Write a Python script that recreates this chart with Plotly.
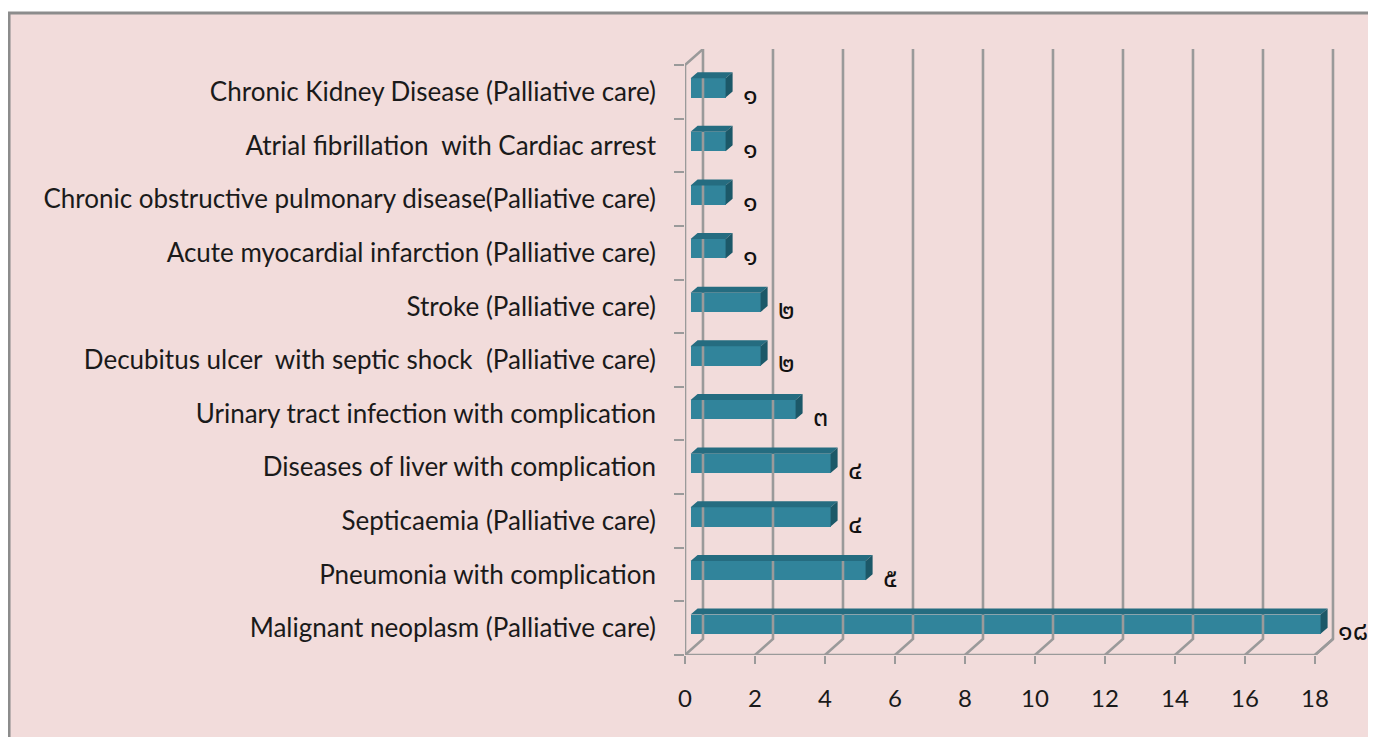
import plotly.graph_objects as go

# ---- data (bottom to top) ----
categories = [
    "Malignant neoplasm (Palliative care)",
    "Pneumonia with complication",
    "Septicaemia (Palliative care)",
    "Diseases of liver with complication",
    "Urinary tract infection with complication",
    "Decubitus ulcer\u00a0 with septic shock\u00a0 (Palliative care)",
    "Stroke (Palliative care)",
    "Acute myocardial infarction (Palliative care)",
    "Chronic obstructive pulmonary disease(Palliative care)",
    "Atrial fibrillation\u00a0 with Cardiac arrest",
    "Chronic Kidney Disease (Palliative care)",
]
values = [18, 5, 4, 4, 3, 2, 2, 1, 1, 1, 1]
value_labels = ["๑๘", "๕", "๔", "๔", "๓", "๒", "๒", "๑", "๑", "๑", "๑"]
x_ticks = [0, 2, 4, 6, 8, 10, 12, 14, 16, 18]

# ---- 3D styling parameters (axis units) ----
DX, DY = 0.514, 0.298      # wall depth offset
X0 = 0.16                  # bar front face start
DY0 = 0.075                # bar shift upward
H = 0.18                   # half bar height
BX, BY = 0.2, 0.112        # bar depth

FRONT = "#31849b"
TOP = "#256c80"
SIDE = "#1c5868"
GRID = "#9a9a9a"

pos = list(range(len(categories)))
ytop_wall = len(categories) - 0.5 + DY

# grid / wall lines
gx, gy = [], []
for k in x_ticks:
    gx += [k, k + DX, k + DX, None]
    gy += [-0.5, -0.5 + DY, ytop_wall, None]
# left wall front + top slant
gx += [0, 0, DX, None]
gy += [-0.5, len(categories) - 0.5, ytop_wall, None]
# front floor line
gx += [0, x_ticks[-1], x_ticks[-1] + DX, None]
gy += [-0.5, -0.5, -0.5 + DY, None]

fig = go.Figure()
fig.add_trace(go.Scatter(x=gx, y=gy, mode="lines", line=dict(color=GRID, width=2.6),
                         hoverinfo="skip", showlegend=False, cliponaxis=False))

# front faces
fig.add_trace(go.Bar(orientation="h", x=values, y=[p + DY0 for p in pos], base=X0,
                     width=2 * H, marker=dict(color=FRONT, line=dict(width=0)),
                     showlegend=False))

# top and side faces
tx, ty, sx, sy = [], [], [], []
for p, v in zip(pos, values):
    yb = p + DY0 - H
    yt = p + DY0 + H
    xe = X0 + v
    tx += [X0, xe, xe + BX, X0 + BX, X0, None]
    ty += [yt, yt, yt + BY, yt + BY, yt, None]
    sx += [xe, xe, xe + BX, xe + BX, xe, None]
    sy += [yb, yt, yt + BY, yb + BY, yb, None]
fig.add_trace(go.Scatter(x=tx, y=ty, mode="lines", fill="toself", fillcolor=TOP,
                         line=dict(width=0, color=TOP), hoverinfo="skip", showlegend=False))
fig.add_trace(go.Scatter(x=sx, y=sy, mode="lines", fill="toself", fillcolor=SIDE,
                         line=dict(width=0, color=SIDE), hoverinfo="skip", showlegend=False))

# data labels
fig.add_trace(go.Scatter(x=[X0 + v + BX + 0.3 for v in values], y=[p - 0.1 for p in pos],
                         mode="text", text=value_labels, textposition="middle right",
                         textfont=dict(size=27, color="#111111",
                                       family="Noto Sans Thai, Noto Sans, DejaVu Sans"),
                         hoverinfo="skip", showlegend=False, cliponaxis=False))

fig.update_layout(
    width=1360, height=729,
    margin=dict(l=677, r=18, t=41, b=82),
    paper_bgcolor="white",
    plot_bgcolor="rgba(0,0,0,0)",
    font=dict(family="Lato, Noto Sans, sans-serif", size=26, color="#1a1a1a"),
    bargap=0,
    xaxis=dict(range=[0, 19], tickvals=x_ticks, ticks="outside", ticklen=8, tickwidth=2,
               tickcolor=GRID, showgrid=False, zeroline=False, showline=False,
               ticklabelstandoff=14, tickfont=dict(size=24)),
    yaxis=dict(range=[-0.5, 10.8], tickvals=pos, ticktext=categories, ticks="",
               showgrid=False, zeroline=False, showline=False, ticklabelstandoff=28,
               minor=dict(tickvals=[p - 0.5 for p in pos] + [len(pos) - 0.5],
                          ticks="outside", ticklen=10, tickwidth=2, tickcolor=GRID)),
    shapes=[dict(type="rect", xref="paper", yref="paper", layer="below",
                 x0=-1.0165, x1=1.2, y0=-0.3, y1=1.0592,
                 fillcolor="#f2dcdb", line=dict(color="#8c8c8c", width=3))],
)

fig.write_html("out.html")
